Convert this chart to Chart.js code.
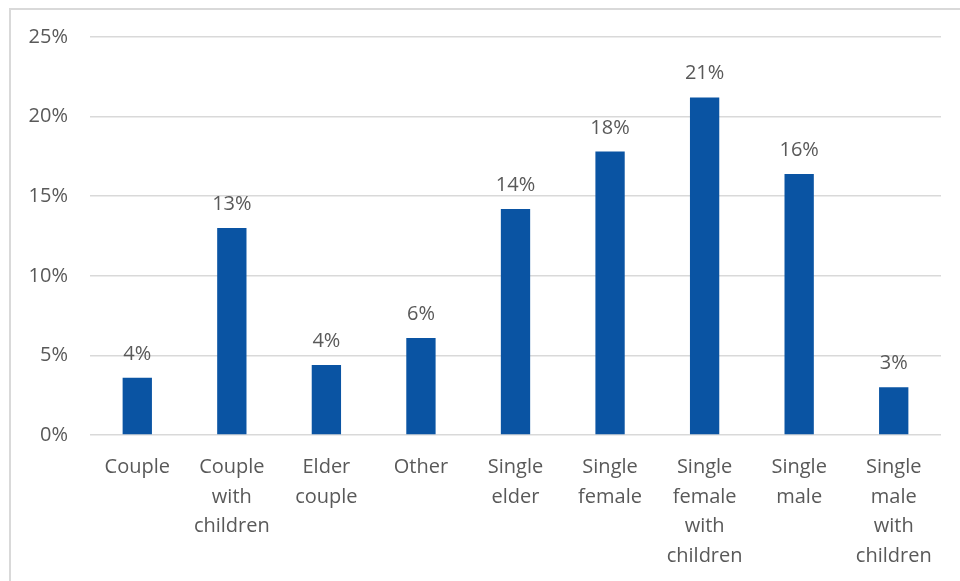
<!DOCTYPE html>
<html>
<head>
<meta charset="utf-8">
<script src="https://cdn.jsdelivr.net/npm/chart.js@4.4.1/dist/chart.umd.min.js"></script>
<style>
    html, body { margin: 0; padding: 0; background: #fff; }
    #wrap { position: relative; width: 960px; height: 581px; overflow: hidden; }
    #frame {
        position: absolute; left: 9px; top: 8px; right: -2px; bottom: -2px;
        border-left: 2px solid #d9d9d9; border-top: 2px solid #d9d9d9;
    }
    #chart { position: absolute; left: 0; top: 0; }
</style>
</head>
<body>
<div id="wrap">
    <div id="frame"></div>
    <canvas id="chart" width="960" height="581"></canvas>
</div>
<script>
const categories = [
    ['Couple'],
    ['Couple', 'with', 'children'],
    ['Elder', 'couple'],
    ['Other'],
    ['Single', 'elder'],
    ['Single', 'female'],
    ['Single', 'female', 'with', 'children'],
    ['Single', 'male'],
    ['Single', 'male', 'with', 'children'],
];
const shares = [3.6, 13.0, 4.4, 6.1, 14.2, 17.8, 21.2, 16.4, 3.0];
const yTicks = [0, 5, 10, 15, 20, 25];

const textColor = '#595959';
const fontFamily = '"Open Sans", "Noto Sans", sans-serif';

// value labels above each bar
const barLabels = {
    id: 'barLabels',
    afterDatasetsDraw(chart) {
        const { ctx } = chart;
        const meta = chart.getDatasetMeta(0);
        ctx.save();
        ctx.font = `20px ${fontFamily}`;
        ctx.fillStyle = textColor;
        ctx.textAlign = 'center';
        ctx.textBaseline = 'alphabetic';
        meta.data.forEach((bar, i) => {
            ctx.fillText(Math.round(shares[i]) + '%', bar.x, bar.y - 18);
        });
        ctx.restore();
    }
};

new Chart(document.getElementById('chart'), {
    type: 'bar',
    data: {
        labels: categories,
        datasets: [{
            data: shares,
            backgroundColor: '#0a54a3',
            borderWidth: 0,
            barPercentage: 0.31,
            categoryPercentage: 1,
        }]
    },
    options: {
        responsive: false,
        animation: false,
        layout: { padding: { top: 37, right: 19, left: 0, bottom: 0 } },
        plugins: {
            legend: { display: false },
            tooltip: { enabled: false },
        },
        scales: {
            x: {
                grid: { display: false },
                border: { display: false },
                ticks: {
                    color: textColor,
                    font: { family: fontFamily, size: 20, lineHeight: 1.47 },
                    maxRotation: 0,
                    autoSkip: false,
                    padding: 10,
                },
                afterFit(scale) { scale.height = 146; },
            },
            y: {
                min: 0,
                max: 25,
                afterBuildTicks(scale) { scale.ticks = yTicks.map(v => ({ value: v })); },
                grid: { color: '#d9d9d9', lineWidth: 1.5, drawTicks: false },
                border: { display: false },
                ticks: {
                    color: textColor,
                    font: { family: fontFamily, size: 20 },
                    padding: 22,
                    callback: v => v + '%',
                },
                afterFit(scale) { scale.width = 90; },
            }
        }
    },
    plugins: [barLabels]
});
</script>
</body>
</html>
